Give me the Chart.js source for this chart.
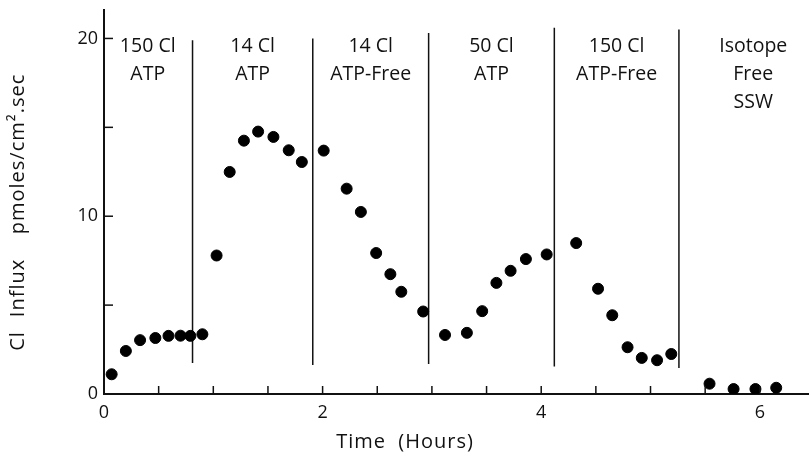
<!DOCTYPE html>
<html>
<head>
<meta charset="utf-8">
<script src="https://cdn.jsdelivr.net/npm/chart.js@4"></script>
<style>
  html, body { margin: 0; padding: 0; background: #fff; }
  #wrap { width: 809px; height: 456px; }
</style>
</head>
<body>
<div id="wrap"><canvas id="chart"></canvas></div>
<script>
// time (hours) and Cl influx (pmoles/cm2.sec)
const czas = [0.07, 0.20, 0.33, 0.47, 0.59, 0.70, 0.79, 0.90, 1.03, 1.15,
              1.28, 1.41, 1.55, 1.69, 1.81, 2.01, 2.22, 2.35, 2.49, 2.62,
              2.72, 2.92, 3.12, 3.32, 3.46, 3.59, 3.72, 3.86, 4.05, 4.32,
              4.52, 4.65, 4.79, 4.92, 5.06, 5.19, 5.54, 5.76, 5.96, 6.15];
const influx = [1.11, 2.42, 3.03, 3.15, 3.27, 3.28, 3.27, 3.36, 7.79, 12.49,
                14.25, 14.76, 14.46, 13.71, 13.05, 13.69, 11.55, 10.24, 7.93, 6.74,
                5.75, 4.64, 3.32, 3.44, 4.66, 6.25, 6.93, 7.59, 7.85, 8.49,
                5.92, 4.43, 2.63, 2.03, 1.90, 2.25, 0.58, 0.28, 0.28, 0.35];

// solution changes (vertical lines)
const granice = [0.81, 1.91, 2.97, 4.12, 5.26];
const granicaGora = [19.9, 20.0, 20.3, 20.6, 20.5];
const granicaDol = [1.75, 1.63, 1.69, 1.54, 1.46];

// solution labels
const opisy = [["150 Cl", "ATP"], ["14 Cl", "ATP"], ["14 Cl", "ATP-Free"],
               ["50 Cl", "ATP"], ["150 Cl", "ATP-Free"], ["Isotope", "Free", "SSW"]];
const opisyX = [0.40, 1.36, 2.44, 3.545, 4.69, 5.94];

// ticks: every half hour / every 5 units, labels only on some
const xTickPoz = [0, 0.5, 1, 1.5, 2, 2.5, 3, 3.5, 4, 4.5, 5, 5.5, 6];
const yTickPoz = [0, 5, 10, 15, 20];
const xTicki = [0, 2, 4, 6];
const yTicki = [0, 10, 20];

const FONT = '"Open Sans", "DejaVu Sans", sans-serif';

const punkty = czas.map((t, i) => ({ x: t, y: influx[i] }));

const linie = granice.map((g, i) => ({
    type: 'line',
    data: [{ x: g, y: granicaDol[i] }, { x: g, y: granicaGora[i] }],
    borderColor: '#111',
    borderWidth: 1.5,
    pointRadius: 0,
    showLine: true
}));

// ticks pointing inward + texts
const dodatki = {
    id: 'dodatki',
    afterDraw(chart) {
        const ctx = chart.ctx;
        const xs = chart.scales.x, ys = chart.scales.y;
        const a = chart.chartArea;
        ctx.save();
        ctx.strokeStyle = '#111';
        ctx.lineWidth = 1.5;
        xTickPoz.forEach(v => {
            if (v === 0) return;
            const px = xs.getPixelForValue(v);
            ctx.beginPath();
            ctx.moveTo(px, a.bottom);
            ctx.lineTo(px, a.bottom - 8);
            ctx.stroke();
        });
        yTickPoz.forEach(v => {
            if (v === 0) return;
            const py = ys.getPixelForValue(v);
            ctx.beginPath();
            ctx.moveTo(a.left, py);
            ctx.lineTo(a.left + 9, py);
            ctx.stroke();
        });
        ctx.fillStyle = '#111';
        ctx.textAlign = 'center';
        ctx.textBaseline = 'middle';
        ctx.font = '19.5px ' + FONT;
        opisy.forEach((linijki, i) => {
            const px = xs.getPixelForValue(opisyX[i]);
            linijki.forEach((t, j) => {
                ctx.fillText(t, px, 46 + j * 28);
            });
        });
        // axis titles
        ctx.font = '20px ' + FONT;
        ctx.letterSpacing = '1px';
        ctx.fillText('Time  (Hours)', 405, 442);
        ctx.translate(18, 0);
        ctx.rotate(-Math.PI / 2);
        ctx.fillText('Cl', -341, 0);
        ctx.fillText('Influx', -288, 0);
        ctx.fillText('pmoles/cm\u00B2.sec', -154, 0);
        ctx.restore();
    }
};

new Chart(document.getElementById('chart'), {
    type: 'scatter',
    data: {
        datasets: [{
            data: punkty,
            backgroundColor: '#000',
            borderColor: '#000',
            pointRadius: 5.5,
            pointHoverRadius: 5.5
        }, ...linie]
    },
    options: {
        responsive: true,
        maintainAspectRatio: false,
        animation: false,
        layout: { autoPadding: false, padding: { top: 10, right: 0, left: 0, bottom: 0 } },
        plugins: {
            legend: { display: false },
            tooltip: { enabled: false }
        },
        scales: {
            x: {
                type: 'linear',
                min: 0,
                max: 6.45,
                grid: { display: true, drawOnChartArea: false, drawTicks: false },
                border: { display: true, color: '#111', width: 2 },
                ticks: {
                    autoSkip: false,
                    maxRotation: 0,
                    padding: 8,
                    color: '#111',
                    font: { family: FONT, size: 18 },
                    callback: v => xTicki.includes(v) ? String(v) : ''
                },
                afterBuildTicks: s => { s.ticks = xTickPoz.map(v => ({ value: v })); },
                afterFit: s => { s.height = 62; s.paddingLeft = 0; s.paddingRight = 0; }
            },
            y: {
                min: 0,
                max: 21.6,
                grid: { display: true, drawOnChartArea: false, drawTicks: false },
                border: { display: true, color: '#111', width: 2 },
                ticks: {
                    autoSkip: false,
                    padding: 6,
                    color: '#111',
                    font: { family: FONT, size: 18 },
                    callback: v => yTicki.includes(v) ? String(v) : ''
                },
                afterBuildTicks: s => { s.ticks = yTickPoz.map(v => ({ value: v })); },
                afterFit: s => { s.width = 104; s.paddingTop = 0; s.paddingBottom = 0; }
            }
        }
    },
    plugins: [dodatki]
});
</script>
</body>
</html>
